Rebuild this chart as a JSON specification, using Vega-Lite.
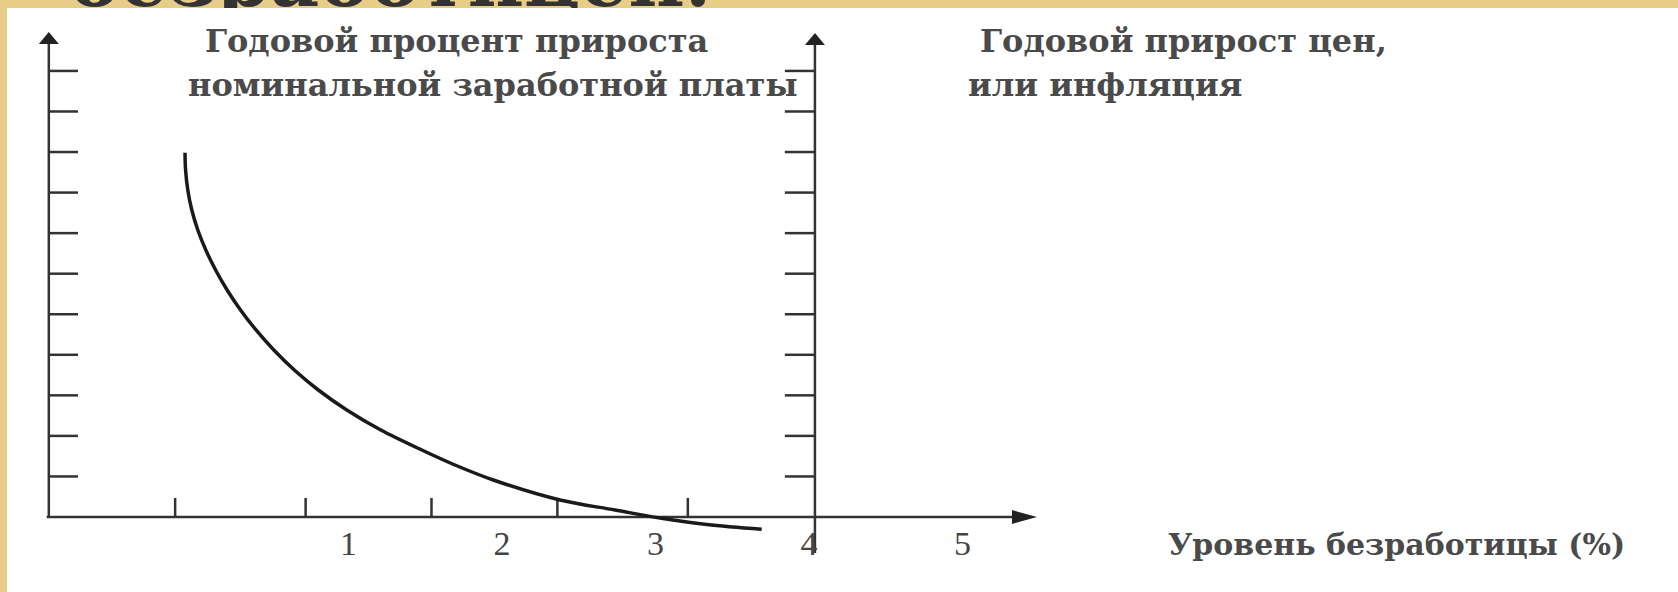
{
  "$schema": "https://vega.github.io/schema/vega-lite/v6.json",
  "width": 1671,
  "height": 584,
  "autosize": {"type": "none"},
  "padding": {"left": 7, "top": 8, "right": 0, "bottom": 0},
  "background": "#E8CD88",
  "config": {
    "view": {"stroke": null},
    "axis": {"disable": true}
  },
  "datasets": {
    "curve": [
      {"u": -0.0658, "p": 8.984}, {"u": -0.0619, "p": 8.557}, {"u": -0.0476, "p": 8.064}, {"u": -0.0215, "p": 7.571},
      {"u": 0.0176, "p": 7.078}, {"u": 0.0697, "p": 6.585}, {"u": 0.1336, "p": 6.091}, {"u": 0.2085, "p": 5.598},
      {"u": 0.2958, "p": 5.105}, {"u": 0.3967, "p": 4.612}, {"u": 0.5127, "p": 4.118}, {"u": 0.6463, "p": 3.625},
      {"u": 0.8026, "p": 3.132}, {"u": 0.9883, "p": 2.639}, {"u": 1.2098, "p": 2.145}, {"u": 1.4769, "p": 1.652},
      {"u": 1.693, "p": 1.282}, {"u": 1.9427, "p": 0.912}, {"u": 2.3772, "p": 0.419}, {"u": 2.7355, "p": 0.173},
      {"u": 3.0287, "p": -0.025}, {"u": 3.3329, "p": -0.185}, {"u": 3.6912, "p": -0.303}
    ],
    "axes": [
      {"axis": "wage", "u": -0.953, "u2": -0.953, "p": 0, "p2": 11.75},
      {"axis": "inflation", "u": 4.038, "u2": 4.038, "p": -0.89, "p2": 11.75},
      {"axis": "unemployment", "u": -0.967, "u2": 5.35, "p": 0, "p2": 0}
    ],
    "arrows": [
      {"axis": "wage", "dir": "up", "u": -0.953, "p": 11.81},
      {"axis": "inflation", "dir": "up", "u": 4.038, "p": 11.79},
      {"axis": "unemployment", "dir": "right", "u": 5.403, "p": 0}
    ],
    "yticks": [{"p": 1}, {"p": 2}, {"p": 3}, {"p": 4}, {"p": 5}, {"p": 6}, {"p": 7}, {"p": 8}, {"p": 9}, {"p": 10}, {"p": 11}],
    "xticks": [{"u": -0.13}, {"u": 0.72}, {"u": 1.54}, {"u": 2.36}, {"u": 3.21}],
    "xlabels": [{"label": "1", "u": 1}, {"label": "2", "u": 2}, {"label": "3", "u": 3}, {"label": "4", "u": 4}, {"label": "5", "u": 5}],
    "texts": [
      {"role": "annotation", "text": "Годовой процент прироста", "u": 0.064, "p": 11.46},
      {"role": "annotation", "text": "номинальной заработной платы", "u": -0.046, "p": 10.38},
      {"role": "annotation", "text": "Годовой прирост цен,", "u": 5.113, "p": 11.46},
      {"role": "annotation", "text": "или инфляция", "u": 5.035, "p": 10.38},
      {"role": "axis title", "text": "Уровень безработицы (%)", "u": 6.338, "p": -0.94}
    ]
  },
  "layer": [
    {
      "data": {"values": [{"text": "безработицей.", "u": -0.82, "p": 12.6}]},
      "mark": {"type": "text", "align": "left", "baseline": "alphabetic", "font": "DejaVu Serif", "fontSize": 76, "fontWeight": "bold", "color": "#333333"},
      "encoding": {
        "x": {"field": "u", "type": "quantitative", "scale": {"domain": [-1.2254, 9.6606], "nice": false, "zero": false}},
        "y": {"field": "p", "type": "quantitative", "scale": {"domain": [-1.8496, 12.552], "nice": false, "zero": false}},
        "text": {"field": "text"}
      }
    },
    {
      "data": {"values": [{}]},
      "mark": {"type": "rect", "color": "white"},
      "encoding": {"x": {"value": 0}, "x2": {"value": "width"}, "y": {"value": 0}, "y2": {"value": "height"}}
    },
    {
      "data": {"name": "axes"},
      "mark": {"type": "rule", "color": "#333333", "strokeWidth": 2.5},
      "encoding": {
        "x": {"field": "u", "type": "quantitative", "scale": {"domain": [-1.2254, 9.6606], "nice": false, "zero": false}},
        "x2": {"field": "u2"},
        "y": {"field": "p", "type": "quantitative", "scale": {"domain": [-1.8496, 12.552], "nice": false, "zero": false}},
        "y2": {"field": "p2"}
      }
    },
    {
      "data": {"name": "yticks"},
      "mark": {"type": "rule", "color": "#333333", "strokeWidth": 2.5},
      "encoding": {
        "x": {"datum": -0.953, "type": "quantitative", "scale": {"domain": [-1.2254, 9.6606], "nice": false, "zero": false}},
        "x2": {"datum": -0.763},
        "y": {"field": "p", "type": "quantitative", "scale": {"domain": [-1.8496, 12.552], "nice": false, "zero": false}}
      }
    },
    {
      "data": {"name": "yticks"},
      "mark": {"type": "rule", "color": "#333333", "strokeWidth": 2.5},
      "encoding": {
        "x": {"datum": 3.842, "type": "quantitative", "scale": {"domain": [-1.2254, 9.6606], "nice": false, "zero": false}},
        "x2": {"datum": 4.038},
        "y": {"field": "p", "type": "quantitative", "scale": {"domain": [-1.8496, 12.552], "nice": false, "zero": false}}
      }
    },
    {
      "data": {"name": "xticks"},
      "mark": {"type": "rule", "color": "#333333", "strokeWidth": 2.5},
      "encoding": {
        "x": {"field": "u", "type": "quantitative", "scale": {"domain": [-1.2254, 9.6606], "nice": false, "zero": false}},
        "y": {"datum": 0, "type": "quantitative", "scale": {"domain": [-1.8496, 12.552], "nice": false, "zero": false}},
        "y2": {"datum": 0.47}
      }
    },
    {
      "data": {"name": "arrows"},
      "mark": {"type": "point", "filled": true, "size": 625, "color": "#222222", "opacity": 1},
      "encoding": {
        "x": {"field": "u", "type": "quantitative", "scale": {"domain": [-1.2254, 9.6606], "nice": false, "zero": false}},
        "y": {"field": "p", "type": "quantitative", "scale": {"domain": [-1.8496, 12.552], "nice": false, "zero": false}},
        "shape": {"field": "dir", "type": "nominal", "scale": {"domain": ["up", "right"], "range": ["M-0.8,0.48L0,-0.48L0.8,0.48Z", "M-1,-0.56L1,0L-1,0.56Z"]}, "legend": null}
      }
    },
    {
      "data": {"name": "curve"},
      "mark": {"type": "line", "color": "#1a1a1a", "strokeWidth": 3.5, "interpolate": "catmull-rom"},
      "encoding": {
        "x": {"field": "u", "type": "quantitative", "scale": {"domain": [-1.2254, 9.6606], "nice": false, "zero": false}},
        "y": {"field": "p", "type": "quantitative", "scale": {"domain": [-1.8496, 12.552], "nice": false, "zero": false}}
      }
    },
    {
      "data": {"name": "xlabels"},
      "mark": {"type": "text", "align": "center", "baseline": "middle", "font": "Liberation Serif", "fontSize": 34, "color": "#444444"},
      "encoding": {
        "x": {"field": "u", "type": "quantitative", "scale": {"domain": [-1.2254, 9.6606], "nice": false, "zero": false}},
        "y": {"datum": -0.69, "type": "quantitative", "scale": {"domain": [-1.8496, 12.552], "nice": false, "zero": false}},
        "text": {"field": "label"}
      }
    },
    {
      "data": {"name": "texts"},
      "transform": [{"filter": "datum.role === 'annotation'"}],
      "mark": {"type": "text", "align": "left", "baseline": "alphabetic", "font": "DejaVu Serif", "fontSize": 32, "fontWeight": "bold", "color": "#4a4a4a"},
      "encoding": {
        "x": {"field": "u", "type": "quantitative", "scale": {"domain": [-1.2254, 9.6606], "nice": false, "zero": false}},
        "y": {"field": "p", "type": "quantitative", "scale": {"domain": [-1.8496, 12.552], "nice": false, "zero": false}},
        "text": {"field": "text"}
      }
    },
    {
      "data": {"name": "texts"},
      "transform": [{"filter": "datum.role === 'axis title'"}],
      "mark": {"type": "text", "align": "left", "baseline": "alphabetic", "font": "DejaVu Serif", "fontSize": 30, "fontWeight": "bold", "color": "#4a4a4a"},
      "encoding": {
        "x": {"field": "u", "type": "quantitative", "scale": {"domain": [-1.2254, 9.6606], "nice": false, "zero": false}},
        "y": {"field": "p", "type": "quantitative", "scale": {"domain": [-1.8496, 12.552], "nice": false, "zero": false}},
        "text": {"field": "text"}
      }
    }
  ]
}
